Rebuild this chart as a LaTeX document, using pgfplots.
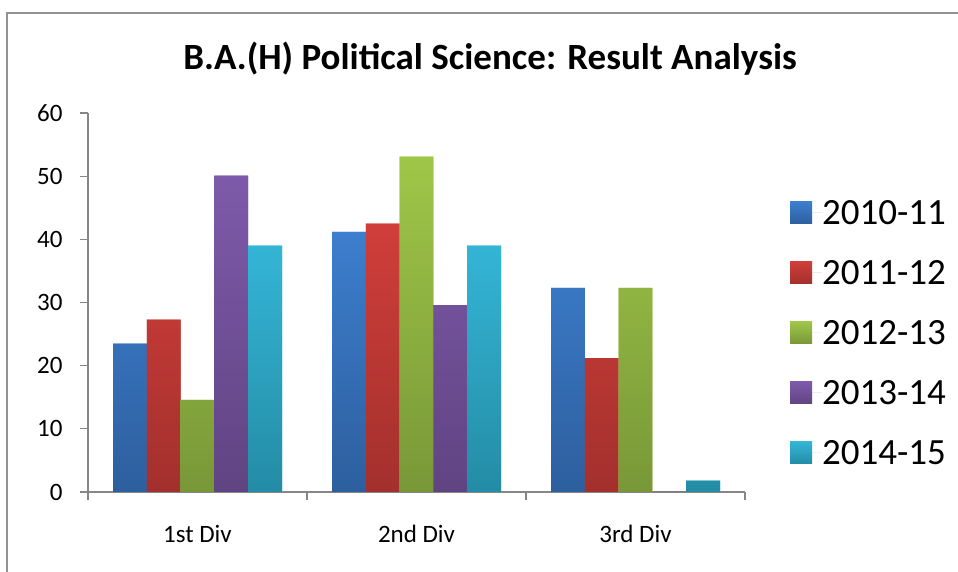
\documentclass[border=0pt]{standalone}
\usepackage{fontspec}
\setmainfont{Carlito}
\usepackage{pgfplots}
\pgfplotsset{compat=1.18}
\definecolor{bT}{RGB}{61,126,206}\definecolor{bB}{RGB}{45,95,158}
\definecolor{rT}{RGB}{208,62,58}\definecolor{rB}{RGB}{163,48,45}
\definecolor{gT}{RGB}{160,198,72}\definecolor{gB}{RGB}{120,152,56}
\definecolor{pT}{RGB}{126,90,170}\definecolor{pB}{RGB}{96,68,130}
\definecolor{cT}{RGB}{52,181,214}\definecolor{cB}{RGB}{36,140,165}
\definecolor{axgray}{RGB}{134,134,134}
\begin{document}
\begin{tikzpicture}[x=1pt,y=1pt]
\useasboundingbox (0,0) rectangle (958,572);
\draw[color=axgray!90!white, line width=2pt] (7,-5) -- (7,559) -- (965,559);
\node[anchor=base, font=\bfseries\fontsize{37}{44}\selectfont] at (490,502) {B.A.(H) Political Science: Result Analysis};
\begin{axis}[
  at={(88pt,80pt)}, anchor=south west,
  scale only axis, width=657pt, height=379pt,
  ymin=0, ymax=60, ytick={0,10,...,60},
  xmin=-0.5, xmax=2.5,
  xtick={0,1,2}, xticklabels={1st Div,2nd Div,3rd Div},
  minor xtick={-0.5,0.5,1.5,2.5},
  axis lines*=left,
  axis line style={draw=axgray, line width=1.2pt},
  every tick/.style={draw=axgray, line width=1.2pt},
  tick align=outside,
  major tick length=8pt, minor tick length=8pt,
  major x tick style={draw=none},
  /pgf/number format/assume math mode=true,
  tick label style={font=\fontsize{25}{30}\selectfont},
  xticklabel style={yshift=-22pt},
  yticklabel style={xshift=-14pt},
  ybar=0pt, bar width=33.8pt,
  legend style={at={(1.0685,0.42)}, anchor=west, draw=none, fill=none,
    inner sep=0pt, outer sep=0pt, row sep=36pt,
    font=\fontsize{37}{44}\selectfont,
    nodes={inner sep=0pt, outer sep=0pt, text height=24pt, text depth=0pt}},
  legend cell align=left,
  legend image code/.code={\fill[#1] (0pt,-11pt) rectangle (22pt,11pt); \path (0pt,0pt) -- (32pt,0pt);},
]
\addplot[draw=none, top color=bT, bottom color=bB, fill=bT] coordinates {(0,23.5) (1,41.2) (2,32.3)};
\addplot[draw=none, top color=rT, bottom color=rB, fill=rT] coordinates {(0,27.3) (1,42.5) (2,21.2)};
\addplot[draw=none, top color=gT, bottom color=gB, fill=gT] coordinates {(0,14.6) (1,53.1) (2,32.3)};
\addplot[draw=none, top color=pT, bottom color=pB, fill=pT] coordinates {(0,50.1) (1,29.6) (2,0)};
\addplot[draw=none, top color=cT, bottom color=cB, fill=cT] coordinates {(0,39.0) (1,39.0) (2,1.8)};
\legend{2010-11,2011-12,2012-13,2013-14,2014-15}
\end{axis}
\end{tikzpicture}
\end{document}
